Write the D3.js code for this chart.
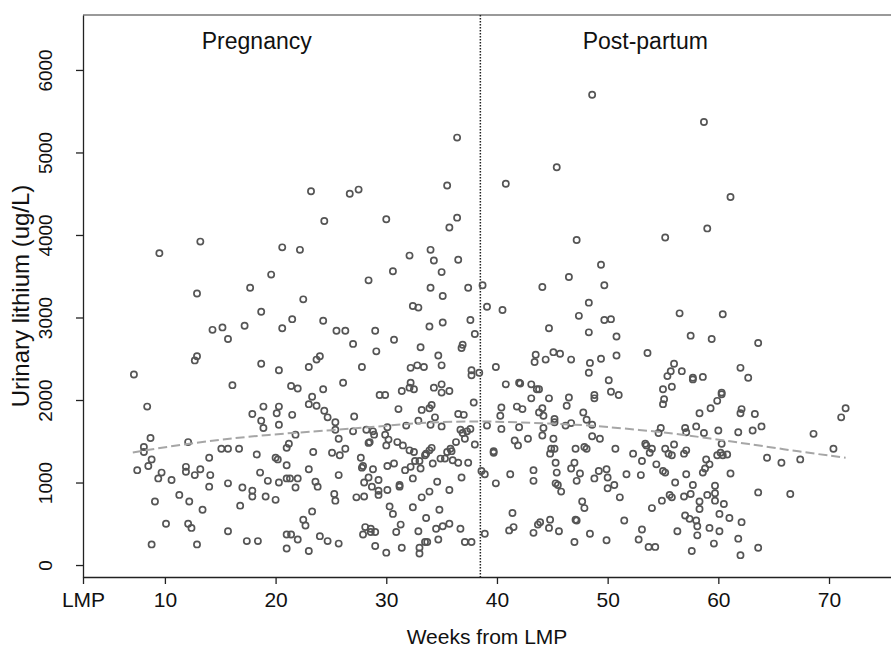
<!DOCTYPE html>
<html>
<head>
<meta charset="utf-8">
<script src="https://cdn.jsdelivr.net/npm/d3@7"></script>
<style>
  body { margin: 0; background: #fff; }
  svg text { font-family: Arial, "Liberation Sans", sans-serif; fill: #111; }
</style>
</head>
<body>
<svg id="chart" width="891" height="649"></svg>
<script>
// weeks from LMP, urinary lithium (ug/L)
const samples = [
  [9.5,3780],[13.2,3920],[12.9,3290],[17.7,3360],
  [23.2,4530],[26.7,4500],[27.5,4550],[24.4,4170],[30.0,4190],[20.6,3850],[22.2,3820],[32.1,3750],[19.6,3520],[30.6,3560],[28.4,3450],
  [36.4,5180],[35.5,4600],[40.8,4620],[45.4,4820],[36.4,4210],[35.7,4090],[47.2,3940],[34.0,3820],[34.3,3690],[36.5,3700],[35.0,3550],[34.0,3360],[35.1,3260],[37.4,3360],[38.7,3390],[44.1,3370],[46.5,3490],
  [48.6,5700],[58.7,5370],[61.1,4460],[59.0,4080],[55.2,3970],[49.4,3640],[49.7,3390],
  [18.7,3070],[14.3,2850],[15.2,2880],[17.2,2900],[15.7,2740],[12.9,2530],[12.7,2480],[18.7,2440],[7.2,2310],[16.1,2180],[8.4,1920],[18.9,1920],[17.9,1830],[18.7,1750],[18.9,1660],[8.7,1540],[8.1,1430],[8.1,1370],[12.1,1490],[8.8,1280],[8.5,1200],[7.5,1150],[9.7,1120],[9.4,1050],[10.6,1030],[11.9,1190],[11.9,1130],[12.7,1090],[13.2,1160],[14.1,1090],[14.0,1300],[15.1,1410],[15.7,1410],[16.7,1410],[18.3,1340],[18.6,1120],[14.0,950],[15.7,990],[17.0,940],[17.9,900],[17.9,830],[9.1,770],[11.3,850],[12.2,770],[13.4,670],[16.8,720],[10.1,500],[12.1,500],[12.4,450],[15.7,410],[8.8,250],[12.9,250],[17.4,290],[18.4,290],
  [22.5,3220],[32.4,3140],[32.9,3120],[21.5,2980],[20.6,2870],[24.3,2960],[25.5,2840],[26.3,2840],[29.0,2840],[30.7,2730],[27.0,2680],[29.1,2590],[33.1,2640],[20.3,2360],[23.0,2400],[23.7,2490],[24.0,2530],[27.8,2400],[32.2,2390],[32.8,2420],[33.4,2400],[21.4,2170],[22.0,2140],[24.3,2130],[26.1,2210],[29.4,2060],[29.9,2060],[31.4,2110],[32.1,2150],[32.5,2130],[32.2,2210],[20.3,1920],[20.1,1840],[21.5,1820],[20.3,1700],[23.3,2040],[23.0,1950],[23.7,1930],[24.4,1870],[24.7,1790],[25.4,1730],[27.1,1800],[31.1,1890],[33.2,1880],[21.8,1580],[25.4,1640],[27.0,1620],[28.2,1640],[28.8,1620],[30.1,1670],[31.8,1690],[32.9,1750],[25.7,1530],[28.9,1580],[29.9,1580],[30.2,1520],[30.0,1450],[31.0,1490],[31.5,1450],[32.1,1390],[32.5,1370],[28.5,1490],[28.4,1480],[21.2,1470],[21.0,1420],[23.4,1370],[25.1,1360],[25.8,1330],[26.3,1410],[20.0,1300],[20.2,1280],[21.0,1210],[27.7,1300],[27.9,1200],[27.8,1180],[28.8,1160],[30.1,1200],[30.7,1230],[31.7,1150],[32.2,1190],[32.6,1260],[33.0,1260],[33.1,1170],[33.5,1330],[23.0,1160],[25.7,1090],[23.6,1010],[23.8,950],[19.3,1020],[20.3,1000],[21.0,1050],[21.3,1050],[22.0,1050],[21.8,940],[28.0,1000],[28.4,1060],[29.3,1030],[28.7,950],[29.3,900],[29.3,850],[30.1,910],[31.2,970],[31.2,950],[32.4,1050],[19.1,830],[20.0,790],[25.3,860],[25.4,780],[27.3,820],[28.0,830],[30.3,710],[30.6,620],[32.4,700],[33.2,820],[23.3,650],[22.5,550],[22.7,480],[31.3,490],[30.9,400],[32.9,410],[33.5,280],[21.0,370],[21.4,370],[22.0,310],[24.0,350],[24.7,290],[25.7,260],[28.1,460],[28.6,440],[27.9,370],[29.0,400],[28.6,400],[21.0,200],[23.0,170],[29.0,230],[30.0,150],[31.4,210],[33.0,210],[33.0,140],
  [39.1,3130],[40.5,3090],[47.4,3020],[33.9,2890],[35.1,2940],[37.6,2970],[38.0,2800],[44.7,2870],[36.9,2670],[36.8,2630],[34.7,2540],[35.0,2420],[39.9,2400],[43.4,2460],[43.5,2550],[44.4,2490],[45.1,2580],[45.7,2560],[46.7,2490],[37.7,2360],[37.7,2300],[38.4,2330],[34.3,2150],[35.0,2190],[35.0,2090],[35.7,2110],[40.8,2190],[42.0,2210],[42.1,2200],[43.1,2190],[43.6,2130],[43.8,2130],[34.1,1940],[33.9,1900],[37.9,1970],[46.5,2030],[46.3,1930],[44.7,2020],[43.1,2020],[40.4,1910],[40.3,1810],[41.8,1920],[42.3,1890],[44.1,1900],[43.8,1850],[44.2,1810],[36.5,1830],[37.0,1820],[34.4,1790],[34.0,1700],[35.0,1680],[39.1,1690],[40.4,1650],[42.0,1670],[44.2,1660],[45.2,1770],[45.2,1730],[46.2,1690],[46.7,1720],[47.8,1850],[36.7,1640],[37.6,1650],[36.9,1600],[37.3,1620],[37.1,1530],[38.0,1460],[36.3,1490],[41.6,1510],[41.9,1450],[42.8,1530],[44.1,1570],[45.1,1530],[39.7,1380],[39.7,1360],[44.9,1410],[45.2,1410],[44.8,1350],[47.1,1410],[34.1,1420],[33.9,1390],[33.6,1350],[35.8,1410],[35.5,1370],[35.9,1380],[36.0,1270],[35.3,1290],[34.9,1290],[36.5,1240],[37.4,1240],[34.2,1230],[45.3,1240],[47.0,1240],[46.7,1170],[47.5,1110],[38.6,1140],[38.9,1100],[39.9,990],[41.2,1100],[43.3,1150],[43.3,1020],[45.4,1120],[45.3,990],[45.5,970],[45.8,890],[47.2,1020],[36.8,1060],[34.6,1010],[35.7,910],[33.9,890],[41.4,630],[34.8,670],[33.6,570],[47.7,770],[47.9,690],[34.5,440],[35.1,470],[35.7,500],[36.7,440],[33.7,280],[34.7,310],[41.1,420],[41.5,460],[43.7,490],[43.9,520],[44.8,550],[44.7,450],[45.6,410],[43.3,390],[47.2,540],[47.1,550],[38.9,380],[37.1,280],[37.7,280],[47.0,280],[47.9,1430],
  [48.3,3180],[49.7,2970],[50.3,2980],[56.5,3050],[60.4,3040],[48.3,2820],[50.8,2770],[57.5,2780],[59.4,2740],[53.6,2570],[50.8,2540],[48.4,2450],[48.3,2330],[49.4,2500],[56.0,2440],[55.7,2350],[55.4,2290],[56.7,2350],[57.7,2270],[57.7,2250],[58.6,2280],[62.0,2390],[50.1,2240],[50.3,2100],[51.0,2060],[48.8,2060],[48.8,2020],[55.0,2130],[55.8,2160],[55.1,2010],[55.0,1950],[60.3,2090],[60.3,2070],[59.9,1990],[59.3,1900],[58.3,1840],[48.1,1760],[48.6,1700],[62.1,1890],[62.0,1840],[54.8,1660],[54.6,1600],[57.0,1660],[57.1,1610],[58.0,1680],[58.7,1600],[60.0,1630],[61.8,1610],[48.6,1560],[49.3,1530],[48.1,1410],[50.7,1410],[52.3,1350],[53.1,1260],[53.4,1470],[53.5,1450],[54.0,1410],[53.8,1360],[55.2,1410],[55.5,1350],[55.8,1330],[56.0,1460],[56.9,1350],[57.1,1390],[54.4,1220],[55.0,1140],[55.2,1120],[58.9,1280],[59.2,1220],[58.8,1170],[58.6,1120],[60.2,1360],[59.9,1330],[60.4,1330],[60.8,1340],[60.3,1470],[61.1,1110],[49.2,1140],[48.8,1050],[49.9,1160],[50.0,1060],[50.0,930],[50.6,970],[51.1,820],[51.7,1100],[53.0,1090],[56.1,1000],[56.9,830],[57.1,1100],[57.7,970],[57.5,860],[58.3,770],[58.3,680],[59.0,850],[59.7,960],[59.7,870],[59.7,780],[60.5,740],[55.6,850],[55.8,820],[54.9,780],[54.0,690],[51.5,540],[53.1,430],[52.8,310],[53.7,220],[54.3,220],[48.4,380],[49.9,300],[56.3,410],[57.0,600],[57.4,560],[58.0,540],[58.1,470],[58.1,360],[59.2,450],[60.1,410],[60.1,620],[61.0,570],[57.6,170],[59.6,260],[62.1,520],[61.8,320],[62.0,120],
  [63.6,2690],[62.7,2270],[63.3,1830],[63.1,1630],[63.9,1680],[68.6,1590],[71.1,1790],[71.5,1900],[70.4,1410],[64.4,1300],[65.7,1240],[67.4,1280],[63.6,880],[66.5,860],[63.6,210]
];

// smoothed trend
const smoothWeeks = [7.1, 12.1, 18.6, 25.4, 30.0, 33.5, 38.5, 42.1, 46.6, 48.0, 54.9, 59.6, 62.4, 67.4, 71.5];
const smoothVals  = [1365, 1474, 1575, 1636, 1688, 1729, 1745, 1729, 1704, 1696, 1616, 1527, 1474, 1373, 1300];

const xTicks = [2.6, 10, 20, 30, 40, 50, 60, 70];
const xTickLabels = ["LMP", "10", "20", "30", "40", "50", "60", "70"];
const yTicks = [0, 1000, 2000, 3000, 4000, 5000, 6000];
const deliveryWeek = 38.5;
const phaseLabels = ["Pregnancy", "Post-partum"];
const phaseCenters = [18.3, 53.4];

const w = 891, h = 649;
const padLeft = 83, padTop = 15, axisY = 577;

const xScale = d3.scaleLinear().domain([2.6, 75.6]).range([padLeft, w]);
const yScale = d3.scaleLinear().domain([-145, 6666]).range([axisY, padTop]);

const svg = d3.select('#chart');

// frame top line
svg.append('line')
  .attr('x1', padLeft).attr('x2', w)
  .attr('y1', padTop).attr('y2', padTop)
  .attr('stroke', '#777').attr('stroke-width', 1.5);

// delivery marker
svg.append('line')
  .attr('x1', xScale(deliveryWeek)).attr('x2', xScale(deliveryWeek))
  .attr('y1', padTop).attr('y2', axisY)
  .attr('stroke', '#222').attr('stroke-width', 1.5)
  .attr('stroke-dasharray', '1.5,1.5');

// points
svg.append('g')
  .selectAll('circle')
  .data(samples)
  .enter()
  .append('circle')
  .attr('cx', d => xScale(d[0]))
  .attr('cy', d => yScale(d[1]))
  .attr('r', 3.1)
  .attr('fill', 'none')
  .attr('stroke', '#555')
  .attr('stroke-width', 1.7);

// smooth
const line = d3.line()
  .x((d, i) => xScale(smoothWeeks[i]))
  .y(d => yScale(d))
  .curve(d3.curveBasis);
svg.append('path')
  .datum(smoothVals)
  .attr('d', line)
  .attr('fill', 'none')
  .attr('stroke', '#a6a6a6')
  .attr('stroke-width', 2)
  .attr('stroke-dasharray', '9,4');

// axes
const xAxis = d3.axisBottom(xScale)
  .tickValues(xTicks)
  .tickFormat((d, i) => xTickLabels[i])
  .tickSizeInner(7).tickSizeOuter(0).tickPadding(8);
const gx = svg.append('g')
  .attr('transform', `translate(0,${axisY})`)
  .call(xAxis);
gx.selectAll('text').attr('font-size', 21).attr('font-family', null);

const yAxis = d3.axisLeft(yScale)
  .tickValues(yTicks)
  .tickFormat(d3.format('d'))
  .tickSizeInner(7).tickSizeOuter(0);
const gy = svg.append('g')
  .attr('transform', `translate(${padLeft},0)`)
  .call(yAxis);
gy.selectAll('text')
  .attr('font-size', 19).attr('font-family', null)
  .attr('text-anchor', 'middle')
  .attr('transform', 'rotate(-90)')
  .attr('x', 0).attr('y', -31).attr('dy', 0);

svg.selectAll('.domain, .tick line').attr('stroke', '#222').attr('stroke-width', 1.3);

// titles
svg.append('text')
  .attr('x', (padLeft + w) / 2).attr('y', 644)
  .attr('text-anchor', 'middle').attr('font-size', 21)
  .text('Weeks from LMP');
svg.append('text')
  .attr('transform', `translate(29,${(padTop + axisY) / 2}) rotate(-90)`)
  .attr('text-anchor', 'middle').attr('font-size', 24)
  .text('Urinary lithium (ug/L)');

svg.selectAll('.phase')
  .data(phaseLabels)
  .enter()
  .append('text')
  .attr('class', 'phase')
  .attr('x', (d, i) => xScale(phaseCenters[i]))
  .attr('y', 49)
  .attr('text-anchor', 'middle')
  .attr('font-size', 23)
  .text(d => d);
</script>
</body>
</html>
